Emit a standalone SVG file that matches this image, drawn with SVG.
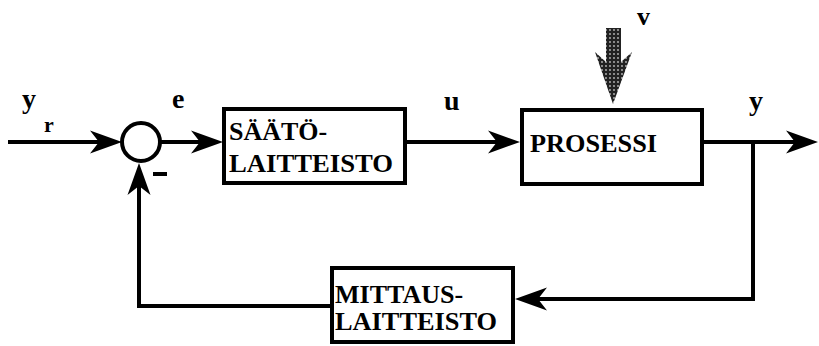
<svg xmlns="http://www.w3.org/2000/svg" width="819" height="346" viewBox="0 0 819 346">
  <style>
    .box { fill: #fff; stroke: #000; stroke-width: 4; }
    .wire { fill: none; stroke: #000; stroke-width: 4; }
    text { font-family: "Liberation Serif", "DejaVu Serif", "Times New Roman", serif; font-weight: bold; fill: #000; }
    .blk { font-size: 26px; }
    .sig { font-size: 28px; }
  </style>
  <defs>
    <!-- notched arrowhead; tip sits 10px past the line end -->
    <marker id="arrow" viewBox="0 0 32 24" refX="22" refY="12" markerWidth="32" markerHeight="24" markerUnits="userSpaceOnUse" orient="auto">
      <path d="M0,0.5 L32,12 L0,23.5 L9,12 z" fill="#000"/>
    </marker>
    <!-- stippled fill for the disturbance arrow -->
    <pattern id="stipple" width="4" height="4" patternUnits="userSpaceOnUse">
      <rect width="4" height="4" fill="#222"/>
      <circle cx="2" cy="2" r="0.9" fill="#bbb"/>
    </pattern>
  </defs>

  <rect width="819" height="346" fill="#fff"/>

  <g id="connectors">
    <!-- reference input -->
    <line class="wire" x1="8" y1="142" x2="112" y2="142" marker-end="url(#arrow)"/>
    <!-- error to controller -->
    <line class="wire" x1="160" y1="142" x2="213" y2="142" marker-end="url(#arrow)"/>
    <!-- control signal to process -->
    <line class="wire" x1="405" y1="142" x2="510" y2="142" marker-end="url(#arrow)"/>
    <!-- process output -->
    <line class="wire" x1="702" y1="142" x2="808" y2="142" marker-end="url(#arrow)"/>
    <!-- feedback branch to measurement -->
    <polyline class="wire" points="753,142 753,299 525,299" marker-end="url(#arrow)"/>
    <!-- measurement back to summing junction -->
    <polyline class="wire" points="332,306 139,306 139,173" marker-end="url(#arrow)"/>
    <!-- disturbance -->
    <path d="M606,28 L621,28 L621,62 L632,52 L613,104 L595,52 L606,62 z" fill="url(#stipple)"/>
  </g>

  <g id="sum">
    <circle cx="141" cy="142" r="19" fill="#fff" stroke="#000" stroke-width="4"/>
    <rect x="153" y="172" width="14" height="4" fill="#000"/>
  </g>

  <g id="controller">
    <rect class="box" x="224" y="109" width="181" height="74"/>
    <text class="blk" x="229" y="140">SÄÄTÖ-</text>
    <text class="blk" x="229" y="172" textLength="164" lengthAdjust="spacingAndGlyphs">LAITTEISTO</text>
  </g>

  <g id="process">
    <rect class="box" x="522" y="110" width="180" height="74"/>
    <text class="blk" x="530" y="152" textLength="127" lengthAdjust="spacingAndGlyphs">PROSESSI</text>
  </g>

  <g id="measurement">
    <rect class="box" x="332" y="268" width="181" height="74"/>
    <text class="blk" x="335" y="303">MITTAUS-</text>
    <text class="blk" x="335" y="330" textLength="162" lengthAdjust="spacingAndGlyphs">LAITTEISTO</text>
  </g>

  <g id="labels">
    <text class="sig" x="22" y="108">y</text>
    <text x="44" y="132" font-size="22">r</text>
    <text class="sig" x="172" y="108">e</text>
    <text class="sig" x="444" y="110">u</text>
    <text x="637" y="25" font-size="26">v</text>
    <text class="sig" x="749" y="110">y</text>
  </g>
</svg>
